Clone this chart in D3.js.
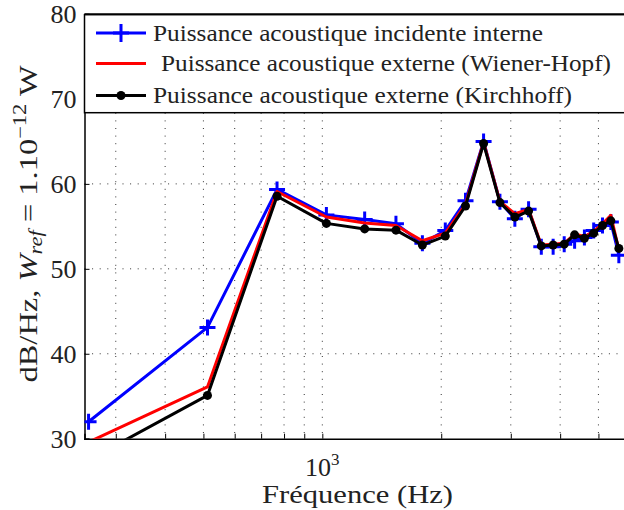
<!DOCTYPE html>
<html>
<head>
<meta charset="utf-8">
<script src="https://cdn.jsdelivr.net/npm/d3@7"></script>
<style>
  body { margin: 0; background: #fff; }
  svg { display: block; }
  text { font-family: "Liberation Serif", "DejaVu Serif", serif; fill: #222; }
</style>
</head>
<body>
<script>
// frequency bands (Hz)
const freq = [256, 512, 768, 1024, 1280, 1536, 1792, 2048, 2304, 2560, 2816,
              3072, 3328, 3584, 3840, 4096, 4352, 4608, 4864, 5120, 5376, 5632];

// dB/Hz values
const incidenteInterne = [32.0, 43.1, 59.35, 56.35, 55.8, 55.3, 53.0, 54.5, 58.0, 65.0, 57.9,
                          55.9, 57.0, 52.6, 52.6, 52.9, 53.3, 53.7, 54.5, 55.1, 55.5, 51.6];
const externeWH = [29.6, 36.1, 59.1, 56.1, 55.4, 55.1, 53.3, 54.2, 57.6, 64.9, 57.9,
                   56.5, 57.0, 52.8, 52.9, 53.0, 54.1, 53.8, 54.4, 55.3, 56.3, 52.2];
const externeKirchhoff = [27.5, 35.1, 58.55, 55.35, 54.7, 54.55, 52.8, 53.85, 57.4, 64.75, 57.8,
                          56.1, 56.8, 52.7, 52.8, 52.9, 54.0, 53.6, 54.2, 55.1, 55.65, 52.4];

const yTicks = [30, 40, 50, 60, 70, 80];
const xGrid = [300, 400, 500, 600, 700, 800, 900, 1000, 2000, 3000, 4000, 5000];

const legendLabels = [
  "Puissance acoustique incidente interne",
  "Puissance acoustique externe (Wiener-Hopf)",
  "Puissance acoustique externe (Kirchhoff)"
];
const legendX = [68.5, 76.5, 68.5];
const legendW = [390, 450, 419];

const width = 624, height = 510;
const margin = {top: 14, left: 84.5, right: -5.7, bottom: 71.3};
const innerWidth = width - margin.left - margin.right;
const innerHeight = height - margin.top - margin.bottom;

const svg = d3.select("body").append("svg")
    .attr("width", width)
    .attr("height", height);

const xScale = d3.scaleLog().domain([250, 6000]).range([0, innerWidth]);
const yScale = d3.scaleLinear().domain([30, 80]).range([innerHeight, 0]);

const g = svg.append("g")
    .attr("transform", `translate(${margin.left},${margin.top})`);

svg.append("defs").append("clipPath").attr("id", "clip")
  .append("rect").attr("width", innerWidth).attr("height", innerHeight);

// grid
g.selectAll(".vgrid").data(xGrid).enter().append("line")
    .attr("x1", d => xScale(d)).attr("x2", d => xScale(d))
    .attr("y1", 0).attr("y2", innerHeight)
    .attr("stroke", "#333").attr("stroke-width", 1)
    .attr("stroke-dasharray", "1,6.6");

g.selectAll(".hgrid").data(yTicks.slice(1, -1)).enter().append("line")
    .attr("x1", 0).attr("x2", innerWidth)
    .attr("y1", d => yScale(d)).attr("y2", d => yScale(d))
    .attr("stroke", "#333").attr("stroke-width", 1)
    .attr("stroke-dasharray", "1,6.6");

// axes
const yAxis = d3.axisLeft(yScale).tickValues(yTicks).tickSize(-5).tickPadding(8);
const yg = g.append("g").call(yAxis);
yg.select(".domain").attr("stroke-width", 1.5);
yg.selectAll("text").attr("font-size", 26).attr("fill", "#222")
    .attr("font-family", "Liberation Serif, serif");

const xAxis = d3.axisBottom(xScale).tickValues(xGrid).tickSize(-5).tickFormat("");
const xg = g.append("g").attr("transform", `translate(0,${innerHeight})`).call(xAxis);
xg.select(".domain").attr("stroke-width", 1.5);

// 10^3 label
const t3 = g.append("text")
    .attr("x", xScale(1000)).attr("y", innerHeight + 37)
    .attr("text-anchor", "middle").attr("font-size", 26);
t3.append("tspan").text("10");
t3.append("tspan").attr("dy", -11).attr("font-size", 17).text("3");

// top frame line
g.append("line").attr("x1", 0).attr("x2", innerWidth).attr("y1", 0).attr("y2", 0)
    .attr("stroke", "#000").attr("stroke-width", 1.5);

// series
const series = [
  {values: incidenteInterne, color: "#0000ff", marker: "plus"},
  {values: externeWH, color: "#ff0000", marker: "none"},
  {values: externeKirchhoff, color: "#000000", marker: "dot"}
];

const plot = g.append("g").attr("clip-path", "url(#clip)");
const line = d3.line().x((d, i) => xScale(freq[i])).y(d => yScale(d));

series.forEach(s => {
  plot.append("path")
      .datum(s.values)
      .attr("fill", "none")
      .attr("stroke", s.color)
      .attr("stroke-width", 3)
      .attr("stroke-linejoin", "round")
      .attr("d", line);
  if (s.marker === "plus") {
    plot.selectAll(null).data(s.values).enter().append("path")
        .attr("transform", (d, i) => `translate(${xScale(freq[i])},${yScale(d)})`)
        .attr("d", "M-8,0H8M0,-8V8")
        .attr("stroke", s.color).attr("stroke-width", 3);
  }
  if (s.marker === "dot") {
    plot.selectAll(null).data(s.values).enter().append("circle")
        .attr("cx", (d, i) => xScale(freq[i]))
        .attr("cy", d => yScale(d))
        .attr("r", 4.5)
        .attr("fill", s.color);
  }
});

// legend
const leg = g.append("g");
leg.append("rect")
    .attr("x", 0).attr("y", 0.7)
    .attr("width", innerWidth).attr("height", 98)
    .attr("fill", "#fff").attr("stroke", "#000").attr("stroke-width", 1.5);

const rowY = [19, 49.5, 81.5];
series.forEach((s, i) => {
  const y = rowY[i];
  leg.append("line")
      .attr("x1", 11.5).attr("x2", 61.5).attr("y1", y).attr("y2", y)
      .attr("stroke", s.color).attr("stroke-width", 3);
  if (s.marker === "plus") {
    leg.append("path").attr("transform", `translate(36.5,${y})`)
        .attr("d", "M-8,0H8M0,-9V9").attr("stroke", s.color).attr("stroke-width", 3);
  }
  if (s.marker === "dot") {
    leg.append("circle").attr("cx", 36.5).attr("cy", y).attr("r", 4.5).attr("fill", s.color);
  }
  leg.append("text")
      .attr("x", legendX[i]).attr("y", y + 7.5)
      .attr("font-size", 23)
      .attr("textLength", legendW[i])
      .attr("lengthAdjust", "spacingAndGlyphs")
      .text(legendLabels[i]);
});

// axis labels
svg.append("text")
    .attr("x", 262).attr("y", 503)
    .attr("font-size", 26)
    .attr("textLength", 191)
    .attr("lengthAdjust", "spacingAndGlyphs")
    .text("Fréquence (Hz)");

// y label, stretched along its length to match the wider original face
const yl = svg.append("text")
    .attr("transform", "translate(37,224) rotate(-90) scale(1.25,1)")
    .attr("text-anchor", "middle").attr("font-size", 26);
yl.append("tspan").text("dB/Hz, ");
yl.append("tspan").attr("font-style", "italic").text("W");
yl.append("tspan").attr("font-style", "italic").attr("font-size", 18).attr("dy", 5).text("ref");
yl.append("tspan").attr("dy", -5).text(" = 1.10");
yl.append("tspan").attr("font-size", 18).attr("dy", -11).text("\u221212");
yl.append("tspan").attr("dy", 11).text(" W");
</script>
</body>
</html>
